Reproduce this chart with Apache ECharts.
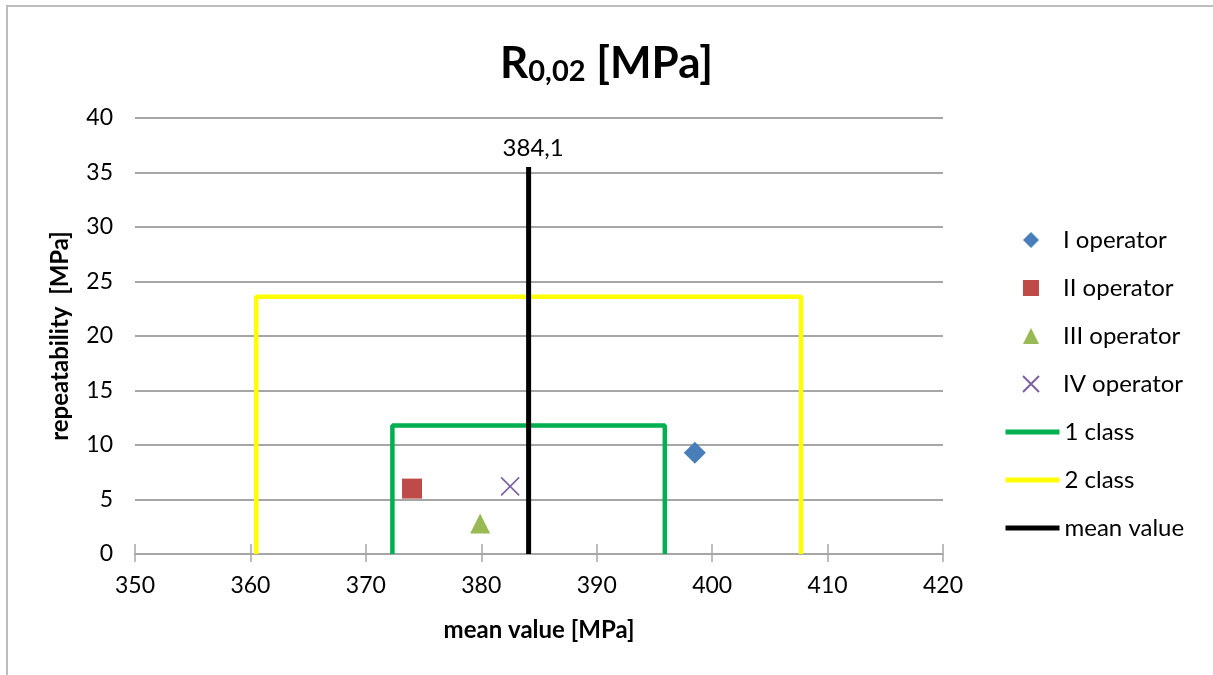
<!DOCTYPE html>
<html>
<head>
<meta charset="utf-8">
<script src="https://cdn.jsdelivr.net/npm/echarts@6/dist/echarts.min.js"></script>
<style>html,body{margin:0;padding:0;background:#fff}#c{width:1213px;height:675px}</style>
</head>
<body>
<div id="c"></div>
<script>
// ---- data ----
var operatorNames = ['I operator', 'II operator', 'III operator', 'IV operator'];
var operatorPoints = [[398.5, 9.3], [374.0, 6.0], [379.9, 2.8], [382.5, 6.2]];
var meanValue = 384.1;
var meanLineTop = 35.5;
var class1Half = 11.8;   // 1 class range half-width and height
var class2Half = 23.6;   // 2 class range half-width and height
var lineNames = ['1 class', '2 class', 'mean value'];
var xTicks = [350, 360, 370, 380, 390, 400, 410, 420];
var yTicks = [0, 5, 10, 15, 20, 25, 30, 35, 40];

var operatorSymbols = ['diamond', 'rect', 'triangle', 'x'];
var operatorColors = ['#4a7ebb', '#be4b48', '#98b954', '#7d60a0'];
var operatorSizes = [22, 20, 20, 18];
var lineColors = ['#00b050', '#ffff00', '#000000'];

function bracket(half) {
  return [[meanValue - half, 0], [meanValue - half, half], [meanValue + half, half], [meanValue + half, 0]];
}

var FONT = 'Lato, "Open Sans", sans-serif';
var chart = echarts.init(document.getElementById('c'));

var xPath = 'path://M0,0 L10,10 M10,0 L0,10';

var series = [];
series.push({
  name: lineNames[0], type: 'line', data: bracket(class1Half), symbol: 'none',
  lineStyle: { color: lineColors[0], width: 4.5 }, itemStyle: { color: lineColors[0] }, z: 2, animation: false
});
series.push({
  name: lineNames[1], type: 'line', data: bracket(class2Half), symbol: 'none',
  lineStyle: { color: lineColors[1], width: 4.5 }, itemStyle: { color: lineColors[1] }, z: 2, animation: false
});
series.push({
  name: lineNames[2], type: 'line', data: [[meanValue, 0], [meanValue, meanLineTop]],
  symbol: 'none', lineStyle: { color: lineColors[2], width: 5 }, itemStyle: { color: lineColors[2] }, z: 3, animation: false,
  endLabel: { show: true, formatter: function () { return String(meanValue).replace('.', ','); },
    fontFamily: FONT, fontSize: 24, color: '#000', offset: [-34, -19] }
});
operatorNames.forEach(function (n, i) {
  var isX = operatorSymbols[i] === 'x';
  series.push({
    name: n, type: 'scatter', data: [operatorPoints[i]],
    symbol: isX ? xPath : operatorSymbols[i], symbolSize: operatorSizes[i], symbolKeepAspect: true,
    itemStyle: isX ? { color: 'rgba(0,0,0,0)', borderColor: operatorColors[i], borderWidth: 1.6, opacity: 1 }
                   : { color: operatorColors[i], opacity: 1 },
    z: 5, animation: false
  });
});

var hidden = { color: 'rgba(0,0,0,0)', borderColor: 'rgba(0,0,0,0)', borderWidth: 0 };
var lineLegendData = lineNames.map(function (n, i) {
  return { name: n, itemStyle: hidden, lineStyle: { width: 5, color: lineColors[i] } };
});

var legendText = { fontFamily: FONT, fontSize: 24, color: '#000', lineHeight: 24 };

chart.setOption({
  animation: false,
  backgroundColor: '#fff',
  title: {
    text: '{a|R}{b|0,02}{a| [MPa]}',
    left: 'center', top: 29,
    textStyle: {
      rich: {
        a: { fontFamily: FONT, fontSize: 44, fontWeight: 'bold', color: '#000', verticalAlign: 'bottom', lineHeight: 52 },
        b: { fontFamily: FONT, fontSize: 29, fontWeight: 'bold', color: '#000', verticalAlign: 'bottom', lineHeight: 44 }
      }
    }
  },
  grid: { left: 135, right: 270, top: 118, bottom: 121 },
  legend: [{
    orient: 'vertical', left: 1017, top: 223,
    itemWidth: 16, itemHeight: 16, itemGap: 24, symbolKeepAspect: true,
    data: operatorNames,
    textStyle: Object.assign({ padding: [0, 0, 0, 19] }, legendText)
  }, {
    orient: 'vertical', left: 998, top: 415,
    itemWidth: 54, itemHeight: 16, itemGap: 24,
    data: lineLegendData,
    textStyle: legendText
  }],
  xAxis: [{
    type: 'value', min: xTicks[0], max: xTicks[xTicks.length - 1], interval: 10, position: 'bottom',
    name: 'mean value [MPa]', nameLocation: 'middle', nameGap: 64,
    nameTextStyle: { fontFamily: FONT, fontSize: 24, fontWeight: 'bold', color: '#000' },
    axisLine: { show: true, lineStyle: { color: '#a6a6a6', width: 2 } },
    axisTick: { show: true, length: 8, lineStyle: { color: '#a6a6a6', width: 1.5 } },
    axisLabel: { fontFamily: FONT, fontSize: 23, color: '#000', margin: 20 },
    splitLine: { show: false }
  }, {
    type: 'value', min: xTicks[0], max: xTicks[xTicks.length - 1], interval: 10, position: 'bottom',
    axisLine: { show: false },
    axisTick: { show: true, inside: true, length: 10, lineStyle: { color: '#a6a6a6', width: 1.5 } },
    axisLabel: { show: false }, splitLine: { show: false }
  }],
  yAxis: {
    type: 'value', min: yTicks[0], max: yTicks[yTicks.length - 1], interval: 5,
    name: 'repeatability  [MPa]', nameLocation: 'middle', nameGap: 63, nameRotate: 90,
    nameTextStyle: { fontFamily: FONT, fontSize: 24, fontWeight: 'bold', color: '#000' },
    axisLine: { show: false }, axisTick: { show: false },
    axisLabel: { fontFamily: FONT, fontSize: 23, color: '#000', margin: 22 },
    splitLine: { show: true, lineStyle: { color: '#a6a6a6', width: 2 } }
  },
  graphic: [{
    type: 'rect', shape: { x: 7, y: 6, width: 1220, height: 680 },
    style: { fill: 'none', stroke: '#bdbdbd', lineWidth: 2 }, silent: true
  }],
  series: series
});
</script>
</body>
</html>
